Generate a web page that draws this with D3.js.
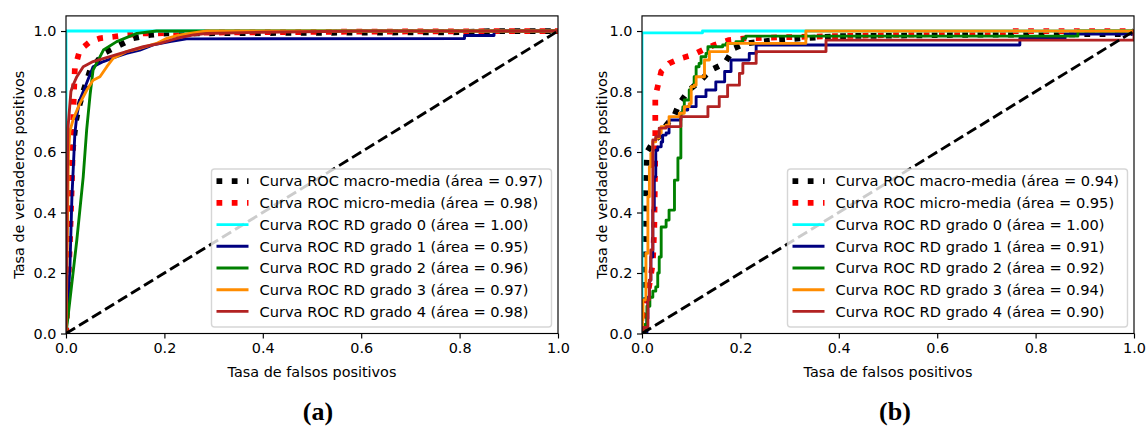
<!DOCTYPE html>
<html><head><meta charset="utf-8">
<script src="https://cdn.jsdelivr.net/npm/d3@7"></script>
<style>
html,body{margin:0;padding:0;background:#fff;}
svg text{font-family:"DejaVu Sans",sans-serif;}
</style></head>
<body><svg id="c" width="1146" height="428"></svg>
<script>
// ---- data ----
const xTicks = [0, 0.2, 0.4, 0.6, 0.8, 1.0];
const yTicks = [0, 0.2, 0.4, 0.6, 0.8, 1.0];
const xLabel = "Tasa de falsos positivos";
const yLabel = "Tasa de verdaderos positivos";
const captions = ["(a)", "(b)"];
const seriesNames = ["Curva ROC macro-media", "Curva ROC micro-media", "Curva ROC RD grado 0", "Curva ROC RD grado 1", "Curva ROC RD grado 2", "Curva ROC RD grado 3", "Curva ROC RD grado 4"];
const areasA = [0.97, 0.98, 1.00, 0.95, 0.96, 0.97, 0.98];
const areasB = [0.94, 0.95, 1.00, 0.91, 0.92, 0.94, 0.90];

// panel (a): [fpr, tpr]
const macroA = [[0,0],[0.005,0.3],[0.01,0.55],[0.02,0.7],[0.025,0.74],[0.035,0.8],[0.049,0.871],[0.076,0.926],[0.11,0.954],[0.137,0.976],[0.171,0.987],[0.205,0.992],[0.5,0.994],[0.8,0.996],[0.87,1.0],[1,1]];
const microA = [[0,0],[0.003,0.1],[0.008,0.3],[0.012,0.5],[0.014,0.62],[0.015,0.74],[0.018,0.877],[0.028,0.937],[0.049,0.965],[0.069,0.976],[0.096,0.981],[0.123,0.987],[0.157,0.992],[0.3,0.995],[0.6,0.998],[1,1]];
const grade0A = [[0,0],[0,1],[1,1]];
const grade1A = [[0,0],[0.004,0.1],[0.008,0.22],[0.012,0.45],[0.018,0.66],[0.022,0.72],[0.028,0.772],[0.039,0.816],[0.055,0.882],[0.076,0.899],[0.103,0.915],[0.123,0.926],[0.15,0.937],[0.177,0.954],[0.211,0.965],[0.245,0.974],[0.81,0.975],[0.81,0.985],[0.87,0.985],[0.87,1.0],[1,1]];
const grade2A = [[0,0],[0.005,0.068],[0.022,0.309],[0.035,0.518],[0.042,0.673],[0.049,0.79],[0.055,0.871],[0.076,0.937],[0.103,0.965],[0.144,0.992],[0.184,1.0],[1,1]];
const grade3A = [[0,0],[0.003,0.35],[0.005,0.6],[0.008,0.67],[0.015,0.71],[0.028,0.76],[0.042,0.804],[0.055,0.837],[0.069,0.849],[0.083,0.882],[0.096,0.91],[0.123,0.932],[0.15,0.943],[0.184,0.959],[0.205,0.976],[0.232,0.987],[0.272,0.997],[0.286,1.0],[1,1]];
const grade4A = [[0,0],[0.002,0.4],[0.004,0.68],[0.008,0.76],[0.01,0.8],[0.014,0.82],[0.022,0.849],[0.035,0.882],[0.055,0.899],[0.089,0.915],[0.123,0.932],[0.157,0.948],[0.191,0.959],[0.225,0.976],[0.259,0.987],[0.286,0.992],[0.4,0.996],[0.6,1.0],[1,1]];

// panel (b): averages as [fpr, tpr]; grades as staircase rises [fpr where it rises, tpr after rise]
const macroB = [[0,0],[0.003,0.15],[0.004,0.287],[0.008,0.474],[0.01,0.6],[0.025,0.64],[0.035,0.651],[0.05,0.69],[0.066,0.722],[0.076,0.761],[0.096,0.805],[0.12,0.838],[0.14,0.871],[0.168,0.893],[0.187,0.943],[0.211,0.959],[0.242,0.965],[0.272,0.97],[0.394,0.983],[0.7,0.988],[0.99,0.99],[1,1]];
const microB = [[0,0],[0.008,0.055],[0.012,0.13],[0.022,0.233],[0.025,0.35],[0.027,0.6],[0.027,0.783],[0.035,0.838],[0.039,0.866],[0.055,0.893],[0.079,0.91],[0.103,0.921],[0.123,0.937],[0.147,0.954],[0.177,0.97],[0.211,0.976],[0.3,0.98],[0.45,0.985],[0.6,0.99],[0.74,0.992],[0.74,1.0],[1,1]];
const grade0B = [[0,0],[0,0.994],[0.123,1.0],[1,1]];
const grade1B = [[0,0],[0.01,0.05],[0.012,0.12],[0.015,0.176],[0.018,0.253],[0.022,0.408],[0.025,0.518],[0.028,0.606],[0.032,0.617],[0.039,0.633],[0.042,0.656],[0.049,0.663],[0.055,0.706],[0.079,0.729],[0.083,0.739],[0.093,0.75],[0.11,0.783],[0.13,0.805],[0.15,0.832],[0.168,0.866],[0.181,0.904],[0.218,0.926],[0.232,0.954],[0.768,0.976],[0.86,0.99],[1,1]];
const grade2B = [[0,0],[0.006,0.03],[0.01,0.09],[0.016,0.12],[0.022,0.14],[0.028,0.154],[0.032,0.2],[0.035,0.253],[0.039,0.352],[0.049,0.375],[0.055,0.408],[0.066,0.507],[0.073,0.58],[0.079,0.729],[0.083,0.749],[0.086,0.772],[0.096,0.805],[0.1,0.816],[0.106,0.849],[0.11,0.882],[0.116,0.893],[0.12,0.915],[0.13,0.926],[0.134,0.948],[0.164,0.954],[0.171,0.959],[0.191,0.965],[0.205,0.976],[0.211,0.983],[0.886,1.0],[1,1]];
const grade3B = [[0,0],[0.001,0.044],[0.002,0.111],[0.008,0.265],[0.012,0.452],[0.015,0.551],[0.018,0.595],[0.022,0.634],[0.028,0.646],[0.035,0.663],[0.039,0.684],[0.049,0.689],[0.055,0.717],[0.076,0.728],[0.086,0.75],[0.096,0.76],[0.1,0.816],[0.106,0.821],[0.11,0.849],[0.127,0.904],[0.137,0.932],[0.174,0.959],[0.333,1.0],[1,1]];
const grade4B = [[0,0],[0.003,0.02],[0.012,0.111],[0.015,0.176],[0.018,0.276],[0.022,0.64],[0.028,0.651],[0.035,0.679],[0.049,0.684],[0.079,0.717],[0.134,0.75],[0.157,0.783],[0.174,0.821],[0.198,0.86],[0.205,0.893],[0.232,0.932],[0.374,0.97],[1,1]];

// ---- styles ----
const PT = 1.44;
const styles = [
  {color:"#000000", w:4*PT, dash:(1*4*PT)+" "+(1.65*4*PT)},
  {color:"#ff0000", w:4*PT, dash:(1*4*PT)+" "+(1.65*4*PT)},
  {color:"#00ffff", w:2*PT, dash:null},
  {color:"#000080", w:2*PT, dash:null},
  {color:"#008000", w:2*PT, dash:null},
  {color:"#ff8c00", w:2*PT, dash:null},
  {color:"#b22222", w:2*PT, dash:null}
];
const FS = 14.4;
const LFS = 14.6;

const panels = [
  {x0:66, x1:558, series:[macroA, microA, grade0A, grade1A, grade2A, grade3A, grade4A], areas:areasA, stepGrades:false, ylabX:19, capX:318},
  {x0:642, x1:1134, series:[macroB, microB, grade0B, grade1B, grade2B, grade3B, grade4B], areas:areasB, stepGrades:true, ylabX:602, capX:895}
];

const svg = d3.select("#c");
const yTop = 15.9, yZero = 333.5;

panels.forEach((p, pi) => {
  const x = d3.scaleLinear().domain([0, 1]).range([p.x0, p.x1]);
  const y = d3.scaleLinear().domain([0, 1.05]).range([yZero, yTop]);
  const g = svg.append("g");
  const cid = "clip" + pi;
  svg.append("clipPath").attr("id", cid).append("rect")
    .attr("x", p.x0).attr("y", yTop).attr("width", p.x1 - p.x0).attr("height", yZero - yTop);

  const plot = g.append("g").attr("clip-path", "url(#" + cid + ")");
  p.series.forEach((d, i) => {
    const st = styles[i];
    const useStep = p.stepGrades && i >= 2;
    const line = d3.line().x(v => x(v[0])).y(v => y(v[1])).curve(useStep ? d3.curveStepAfter : d3.curveLinear);
    plot.append("path").attr("d", line(d)).attr("fill", "none")
      .attr("stroke", st.color).attr("stroke-width", st.w)
      .attr("stroke-dasharray", st.dash)
      .attr("stroke-linejoin", "round").attr("stroke-linecap", st.dash ? "butt" : "square");
  });
  // diagonal
  plot.append("path").attr("d", d3.line().x(v => x(v[0])).y(v => y(v[1]))([[0,0],[1,1]]))
    .attr("stroke", "#000").attr("stroke-width", 2*PT).attr("fill", "none")
    .attr("stroke-dasharray", (3.7*2*PT) + " " + (1.6*2*PT));

  // axes
  const ax = g.append("g").attr("transform", `translate(0,${yZero})`)
    .call(d3.axisBottom(x).tickValues(xTicks).tickFormat(d3.format(".1f")).tickSize(5).tickPadding(4.5));
  const ay = g.append("g").attr("transform", `translate(${p.x0},0)`)
    .call(d3.axisLeft(y).tickValues(yTicks).tickFormat(d3.format(".1f")).tickSize(5).tickPadding(4.5));
  [ax, ay].forEach(a => {
    a.select(".domain").remove();
    a.selectAll(".tick line").attr("stroke", "#000").attr("stroke-width", 0.8*PT);
    a.selectAll(".tick text").attr("font-size", FS).attr("fill", "#000").style("font-family", "DejaVu Sans");
  });
  g.append("rect").attr("x", p.x0).attr("y", yTop).attr("width", p.x1 - p.x0).attr("height", yZero - yTop)
    .attr("fill", "none").attr("stroke", "#000").attr("stroke-width", 0.8*PT);

  g.append("text").attr("x", (p.x0 + p.x1) / 2).attr("y", 376.5).attr("text-anchor", "middle")
    .attr("font-size", FS).text(xLabel);
  g.append("text").attr("transform", `translate(${p.ylabX},${(yTop + yZero) / 2}) rotate(-90)`)
    .attr("text-anchor", "middle").attr("dy", "0.35em").attr("font-size", FS).text(yLabel);

  // legend
  const lgRight = p.x1 - 6.5, lgW = 340, lgLeft = lgRight - lgW;
  const lgBottom = yZero - 6.5, lgTop = 169;
  const lg = g.append("g");
  lg.append("rect").attr("x", lgLeft).attr("y", lgTop).attr("width", lgW).attr("height", lgBottom - lgTop)
    .attr("rx", 3).attr("fill", "rgba(255,255,255,0.8)").attr("stroke", "rgba(204,204,204,0.8)").attr("stroke-width", 1.4);
  seriesNames.forEach((nm, i) => {
    const cy = 181.2 + i * 21.7;
    const st = styles[i];
    lg.append("line").attr("x1", lgLeft + 5).attr("x2", lgLeft + 37).attr("y1", cy).attr("y2", cy)
      .attr("stroke", st.color).attr("stroke-width", st.w).attr("stroke-dasharray", st.dash);
    lg.append("text").attr("x", lgLeft + 48).attr("y", cy).attr("dy", "0.36em").attr("font-size", LFS)
      .text(`${nm} (área = ${p.areas[i].toFixed(2)})`);
  });

  g.append("text").attr("x", p.capX).attr("y", 420).attr("text-anchor", "middle")
    .attr("font-size", 26).attr("font-weight", "bold").style("font-family", "'Liberation Serif', serif")
    .text(captions[pi]);
});
</script></body></html>
